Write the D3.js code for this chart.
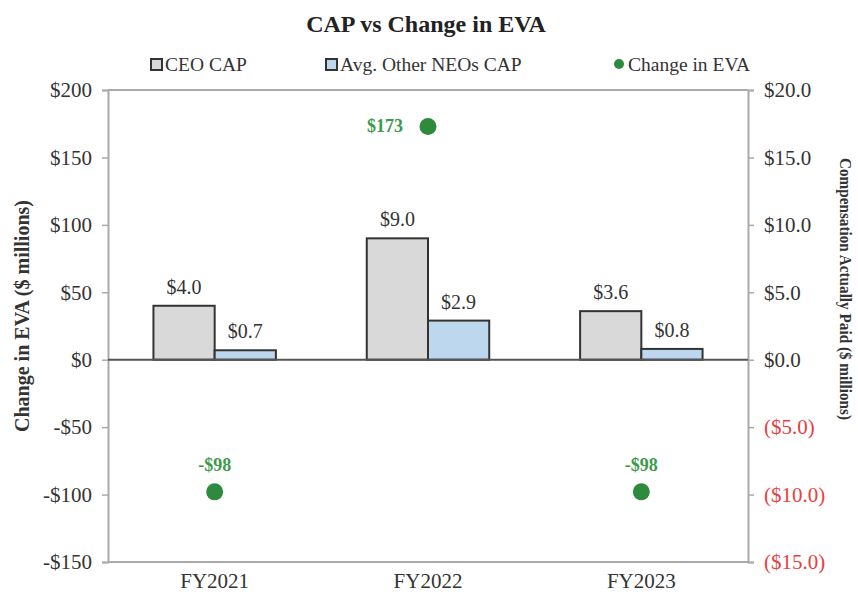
<!DOCTYPE html>
<html>
<head>
<meta charset="utf-8">
<script src="https://cdn.jsdelivr.net/npm/d3@7"></script>
<style>
  body { margin: 0; background: #fff; }
  text { font-family: "Liberation Serif", "Times New Roman", serif; }
</style>
</head>
<body>
<div id="chart"></div>
<script>
// chart data
var categories = ["FY2021", "FY2022", "FY2023"];
var ceoCap = [4.0, 9.0, 3.6];          // $ millions, right axis
var neoCap = [0.7, 2.9, 0.8];          // $ millions, right axis
var evaChange = [-98, 173, -98];       // $ millions, left axis
var leftTicks = [200, 150, 100, 50, 0, -50, -100, -150];
var rightTicks = [20, 15, 10, 5, 0, -5, -10, -15];
var seriesNames = ["CEO CAP", "Avg. Other NEOs CAP", "Change in EVA"];

var W = 858, H = 595;
var m = {left: 108, right: 110, top: 90, bottom: 33};

var svg = d3.select("#chart").append("svg")
  .attr("width", W).attr("height", H);

var x = d3.scaleBand().domain(categories).range([m.left, W - m.right]).padding(0);
var yL = d3.scaleLinear().domain([-150, 200]).range([H - m.bottom, m.top]);
var yR = d3.scaleLinear().domain([-15, 20]).range([H - m.bottom, m.top]);

var barW = x.bandwidth() * 0.287;

// title
svg.append("text")
  .attr("x", 426).attr("y", 32)
  .attr("text-anchor", "middle")
  .style("font-size", "24px").style("font-weight", "bold").style("fill", "#222")
  .text("CAP vs Change in EVA");

// legend
var leg = svg.append("g").attr("class", "legend");
leg.append("rect").attr("x", 151).attr("y", 59).attr("width", 11).attr("height", 11)
  .style("fill", "#d9d9d9").style("stroke", "#333").style("stroke-width", 2);
leg.append("text").attr("x", 165).attr("y", 71).style("font-size", "19.5px").style("fill", "#333").text(seriesNames[0]);
leg.append("rect").attr("x", 326).attr("y", 59).attr("width", 11).attr("height", 11)
  .style("fill", "#bdd7ee").style("stroke", "#333").style("stroke-width", 2);
leg.append("text").attr("x", 340).attr("y", 71).style("font-size", "19.5px").style("fill", "#333").text(seriesNames[1]);
leg.append("circle").attr("cx", 619).attr("cy", 64).attr("r", 5).style("fill", "#2e8b3e");
leg.append("text").attr("x", 628).attr("y", 71).style("font-size", "19.5px").style("fill", "#333").text(seriesNames[2]);

// plot frame
svg.append("line")
  .attr("x1", m.left).attr("x2", W - m.right).attr("y1", m.top).attr("y2", m.top)
  .style("stroke", "#aaa").style("stroke-width", 2);
svg.append("line")
  .attr("x1", m.left).attr("x2", W - m.right).attr("y1", H - m.bottom).attr("y2", H - m.bottom)
  .style("stroke", "#aaa").style("stroke-width", 2);

// left axis
var axL = svg.append("g")
  .attr("transform", "translate(" + m.left + ",0)")
  .call(d3.axisLeft(yL).tickValues(leftTicks).tickSize(6).tickPadding(10)
    .tickFormat(function(d){ return d < 0 ? "-$" + Math.abs(d) : "$" + d; }));
axL.select(".domain").style("stroke", "#aaa").style("stroke-width", 2);
axL.selectAll(".tick line").style("stroke", "#aaa").style("stroke-width", 1.5);
axL.selectAll(".tick text").style("font-size", "21px").style("fill", "#333")
  .style("font-family", "Liberation Serif, serif");

// right axis
var axR = svg.append("g")
  .attr("transform", "translate(" + (W - m.right) + ",0)")
  .call(d3.axisRight(yR).tickValues(rightTicks).tickSize(6).tickPadding(10)
    .tickFormat(function(d){ return d < 0 ? "($" + Math.abs(d).toFixed(1) + ")" : "$" + d.toFixed(1); }));
axR.select(".domain").style("stroke", "#aaa").style("stroke-width", 2);
axR.selectAll(".tick line").style("stroke", "#aaa").style("stroke-width", 1.5);
axR.selectAll(".tick text").style("font-size", "21px")
  .style("font-family", "Liberation Serif, serif")
  .style("fill", function(d){ return d < 0 ? "#e8403f" : "#333"; });

// axis titles
svg.append("text")
  .attr("transform", "translate(29,316) rotate(-90)")
  .attr("text-anchor", "middle")
  .style("font-size", "20px")
  .style("font-weight", "bold").style("fill", "#333")
  .text("Change in EVA ($ millions)");

// right title is condensed in the reference, squeeze it to the same span
svg.append("text")
  .attr("transform", "translate(840,289) rotate(90)")
  .attr("text-anchor", "middle")
  .attr("textLength", 262).attr("lengthAdjust", "spacingAndGlyphs")
  .style("font-size", "17.5px")
  .style("font-weight", "bold").style("fill", "#333")
  .text("Compensation Actually Paid ($ millions)");

// bars
var cx = function(i){ return x(categories[i]) + x.bandwidth() / 2; };

svg.selectAll(".ceo").data(ceoCap).enter().append("rect")
  .attr("class", "ceo")
  .attr("x", function(d, i){ return cx(i) - barW; })
  .attr("y", function(d){ return yR(d); })
  .attr("width", barW)
  .attr("height", function(d){ return yR(0) - yR(d); })
  .style("fill", "#d9d9d9").style("stroke", "#333").style("stroke-width", 2);

svg.selectAll(".neo").data(neoCap).enter().append("rect")
  .attr("class", "neo")
  .attr("x", function(d, i){ return cx(i); })
  .attr("y", function(d){ return yR(d); })
  .attr("width", barW)
  .attr("height", function(d){ return yR(0) - yR(d); })
  .style("fill", "#bdd7ee").style("stroke", "#333").style("stroke-width", 2);

// bar labels
svg.selectAll(".ceo-lbl").data(ceoCap).enter().append("text")
  .attr("x", function(d, i){ return cx(i) - barW / 2; })
  .attr("y", function(d){ return yR(d) - 12; })
  .attr("text-anchor", "middle")
  .style("font-size", "20px").style("fill", "#333")
  .text(function(d){ return "$" + d.toFixed(1); });
svg.selectAll(".neo-lbl").data(neoCap).enter().append("text")
  .attr("x", function(d, i){ return cx(i) + barW / 2; })
  .attr("y", function(d){ return yR(d) - 12; })
  .attr("text-anchor", "middle")
  .style("font-size", "20px").style("fill", "#333")
  .text(function(d){ return "$" + d.toFixed(1); });

// zero line
svg.append("line")
  .attr("x1", m.left).attr("x2", W - m.right).attr("y1", yL(0)).attr("y2", yL(0))
  .style("stroke", "#555").style("stroke-width", 2);

// EVA dots
svg.selectAll(".eva").data(evaChange).enter().append("circle")
  .attr("class", "eva")
  .attr("cx", function(d, i){ return cx(i); })
  .attr("cy", function(d){ return yL(d); })
  .attr("r", 8.5)
  .style("fill", "#2e8b3e");

svg.selectAll(".eva-lbl").data(evaChange).enter().append("text")
  .attr("x", function(d, i){ return d > 0 ? cx(i) - 25 : cx(i); })
  .attr("y", function(d){ return d > 0 ? yL(d) + 6 : yL(d) - 21; })
  .attr("text-anchor", function(d){ return d > 0 ? "end" : "middle"; })
  .style("font-size", "18px").style("font-weight", "bold").style("fill", "#3c9a4c")
  .text(function(d){ return d < 0 ? "-$" + Math.abs(d) : "$" + d; });

// category labels
svg.selectAll(".cat").data(categories).enter().append("text")
  .attr("x", function(d){ return x(d) + x.bandwidth() / 2; })
  .attr("y", H - m.bottom + 26)
  .attr("text-anchor", "middle")
  .style("font-size", "21px").style("fill", "#333")
  .text(function(d){ return d; });
</script>
</body>
</html>
